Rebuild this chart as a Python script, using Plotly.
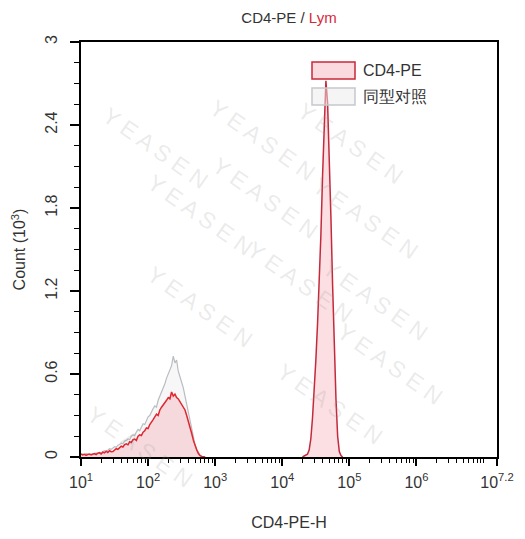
import plotly.graph_objects as go

# ---- data (log10 channel positions and counts in thousands) ----
low_log = [1.000, 1.025, 1.050, 1.075, 1.100, 1.125, 1.150, 1.175, 1.200, 1.225,
           1.250, 1.275, 1.300, 1.325, 1.350, 1.375, 1.400, 1.425, 1.450, 1.475,
           1.500, 1.525, 1.550, 1.575, 1.600, 1.625, 1.650, 1.675, 1.700, 1.725,
           1.750, 1.775, 1.800, 1.825, 1.850, 1.875, 1.900, 1.925, 1.950, 1.975,
           2.000, 2.025, 2.050, 2.075, 2.100, 2.125, 2.150, 2.175, 2.200, 2.225,
           2.250, 2.275, 2.300, 2.325, 2.350, 2.375, 2.400, 2.425, 2.450, 2.475,
           2.500, 2.525, 2.550, 2.575, 2.600, 2.625, 2.650, 2.675, 2.700, 2.725,
           2.750, 2.775, 2.800, 2.825, 2.850]

cd4_low = [0.020, 0.015, 0.020, 0.012, 0.018, 0.022, 0.015, 0.020, 0.025, 0.018,
           0.028, 0.030, 0.022, 0.035, 0.030, 0.042, 0.033, 0.045, 0.038, 0.040,
           0.052, 0.060, 0.055, 0.070, 0.078, 0.072, 0.090, 0.095, 0.088, 0.110,
           0.105, 0.125, 0.130, 0.120, 0.150, 0.160, 0.155, 0.180, 0.190, 0.210,
           0.205, 0.235, 0.250, 0.270, 0.290, 0.310, 0.300, 0.340, 0.360, 0.375,
           0.390, 0.410, 0.430, 0.420, 0.470, 0.440, 0.455, 0.430, 0.420, 0.400,
           0.385, 0.370, 0.340, 0.300, 0.260, 0.220, 0.170, 0.120, 0.080, 0.050,
           0.025, 0.010, 0.004, 0.000, 0.000]

iso_low = [0.025, 0.020, 0.018, 0.025, 0.020, 0.015, 0.022, 0.025, 0.020, 0.030,
           0.025, 0.035, 0.030, 0.040, 0.045, 0.038, 0.050, 0.060, 0.055, 0.065,
           0.075, 0.070, 0.085, 0.090, 0.100, 0.095, 0.115, 0.120, 0.130, 0.125,
           0.150, 0.160, 0.155, 0.180, 0.200, 0.190, 0.220, 0.240, 0.235, 0.270,
           0.290, 0.300, 0.330, 0.350, 0.370, 0.360, 0.410, 0.440, 0.460, 0.500,
           0.530, 0.570, 0.600, 0.640, 0.660, 0.730, 0.680, 0.700, 0.620, 0.580,
           0.540, 0.500, 0.440, 0.380, 0.320, 0.260, 0.190, 0.130, 0.090, 0.055,
           0.030, 0.012, 0.004, 0.000, 0.000]

peak_log = [4.300, 4.325, 4.350, 4.375, 4.400, 4.425, 4.450, 4.475, 4.500, 4.525,
            4.550, 4.575, 4.600, 4.625, 4.650, 4.675, 4.700, 4.725, 4.750, 4.775,
            4.800, 4.825, 4.850, 4.875, 4.900]
cd4_peak = [0.000, 0.006, 0.012, 0.020, 0.050, 0.130, 0.280, 0.460, 0.700, 0.960,
            1.230, 1.600, 2.030, 2.440, 2.720, 2.560, 2.180, 1.730, 1.240, 0.800,
            0.420, 0.150, 0.040, 0.010, 0.000]

series_names = ["CD4-PE", "同型对照"]
x_tick_exp = [1, 2, 3, 4, 5, 6, 7.2]
x_tick_text = ["10<sup>1</sup>", "10<sup>2</sup>", "10<sup>3</sup>", "10<sup>4</sup>",
               "10<sup>5</sup>", "10<sup>6</sup>", "10<sup>7.2</sup>"]
y_tick_vals = [0, 0.6, 1.2, 1.8, 2.4, 3]
y_tick_text = ["0", "0.6", "1.2", "1.8", "2.4", "3"]

RED = "#e0262f"
DARKRED = "#c42a3c"
FILL = "rgba(240,140,150,0.28)"
GRAY = "#b9bcc0"
FONT = "Liberation Sans, Arial, sans-serif"
TXT = "#333333"

# page body has an 8px margin, so the figure is drawn 8px in from the window
OFF = 8
FW, FH = 525 - OFF, 539 - OFF
L, T = 81 - OFF, 42 - OFF
R = FW - (497 - OFF)
B = FH - (457 - OFF)
W, H = FW - L - R, FH - T - B


def px_to_paper(px, py):
    # px, py are window pixel coordinates
    return (px - OFF - L) / W, (FH - B - (py - OFF)) / H


fig = go.Figure()

fig.add_trace(go.Scatter(
    x=[10 ** v for v in low_log], y=iso_low, mode="lines", name=series_names[1],
    line=dict(color=GRAY, width=1.2), fill="tozeroy",
    fillcolor="rgba(225,225,228,0.25)", showlegend=False))

fig.add_trace(go.Scatter(
    x=[10 ** v for v in low_log], y=cd4_low, mode="lines", name=series_names[0],
    line=dict(color=RED, width=1.5), fill="tozeroy", fillcolor=FILL,
    showlegend=False))

fig.add_trace(go.Scatter(
    x=[10 ** v for v in peak_log], y=cd4_peak, mode="lines", name=series_names[0],
    line=dict(color=DARKRED, width=1.5), fill="tozeroy", fillcolor=FILL,
    showlegend=False))

# minor tick positions on the log axis
minor_vals = []
for e in range(1, 7):
    for k in range(2, 10):
        minor_vals.append(k * 10 ** e)
minor_vals.append(10 ** 7)

# faint watermark (window pixel positions -> paper)
wm = [(95, 100), (262, 92), (410, 95), (265, 198), (425, 170), (140, 215),
      (300, 330), (435, 300), (450, 412), (140, 355), (330, 452), (80, 495)]
for (px, py) in wm:
    xp, yp = px_to_paper(px, py)
    fig.add_annotation(
        x=xp, y=yp, xref="paper", yref="paper",
        text="Y E A S E N", showarrow=False, textangle=35,
        font=dict(family=FONT, size=23, color="rgba(150,150,150,0.2)"))

# legend drawn as boxes + labels
legend_items = [(series_names[0], "#c8283a", "rgba(240,150,160,0.35)", 62),
                (series_names[1], "#c6c8cc", "rgba(235,235,238,0.5)", 88)]
for name, lc, fc, top in legend_items:
    x0, y0 = px_to_paper(312, top)
    x1, y1 = px_to_paper(355, top + 17)
    fig.add_shape(type="rect", xref="paper", yref="paper", x0=x0, x1=x1, y0=y1, y1=y0,
                  line=dict(color=lc, width=1.5), fillcolor=fc, layer="above")
    xt, yt = px_to_paper(361, top + 8.5)
    fig.add_annotation(x=xt, y=yt, xref="paper", yref="paper", text=name,
                       showarrow=False, xanchor="left", yanchor="middle",
                       font=dict(family=FONT, size=16, color=TXT))

fig.update_layout(
    width=FW, height=FH,
    margin=dict(l=L, r=R, t=T, b=B, autoexpand=False),
    paper_bgcolor="white", plot_bgcolor="white",
    font=dict(family=FONT, size=14, color=TXT),
    title=dict(text="CD4-PE / <span style='color:#d62a3a'>Lym</span>",
               x=(L + W / 2) / FW, xanchor="center", y=1 - (18 - OFF) / FH, yanchor="middle",
               font=dict(size=15, color=TXT)),
    showlegend=False,
)

fig.update_xaxes(
    type="log", range=[1, 7.2], automargin=False,
    tickvals=[10 ** v for v in x_tick_exp], ticktext=x_tick_text,
    ticks="outside", ticklen=7, tickwidth=1.5, tickcolor="black",
    showline=True, linecolor="black", linewidth=1.5, mirror=True,
    showgrid=False, zeroline=False, ticklabelstandoff=3,
    tickfont=dict(size=16, color=TXT),
    minor=dict(tickvals=minor_vals, ticks="outside", ticklen=4, tickwidth=1, tickcolor="black", showgrid=False),
    title=dict(text="CD4-PE-H", font=dict(size=16, color=TXT), standoff=27),
)
fig.update_yaxes(
    range=[0, 3], automargin=False,
    tickvals=y_tick_vals, ticktext=y_tick_text, tickangle=-90,
    ticks="outside", ticklen=9, tickwidth=1.5, tickcolor="black",
    showline=True, linecolor="black", linewidth=1.5, mirror=True,
    showgrid=False, zeroline=False, ticklabelstandoff=7,
    tickfont=dict(size=16, color=TXT),
    minor=dict(dtick=0.15, ticks="outside", ticklen=5, tickwidth=1, tickcolor="black", showgrid=False),
    title=dict(text="Count (10<sup>3</sup>)", font=dict(size=16, color=TXT), standoff=13),
)

fig.write_html("out.html")
